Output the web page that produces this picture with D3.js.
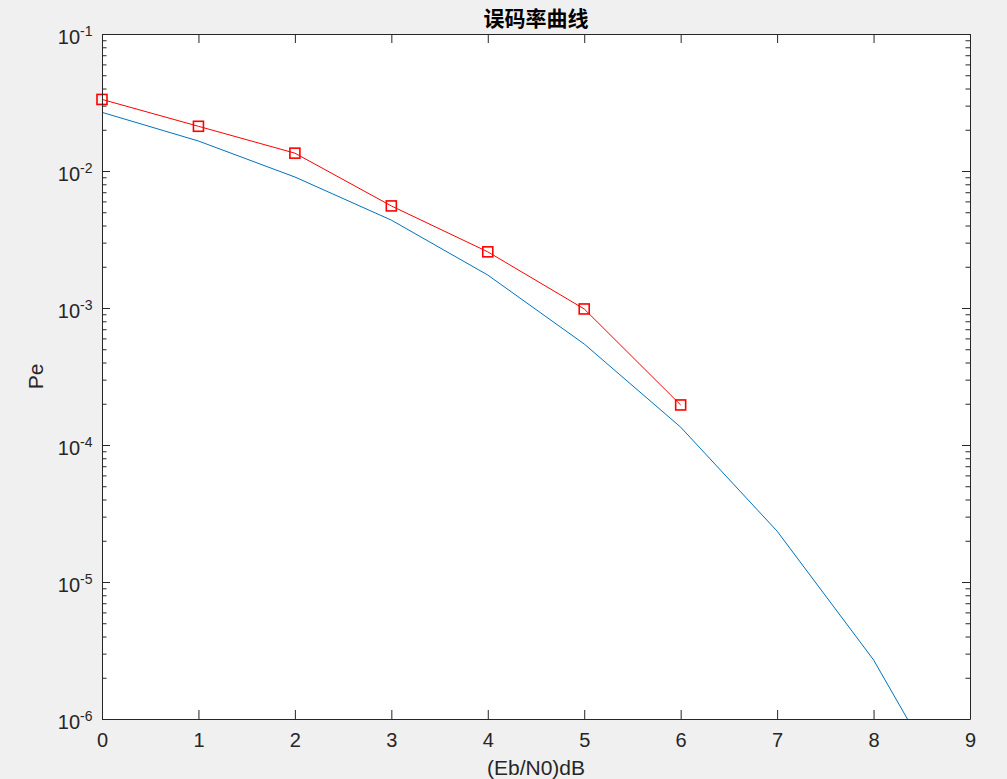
<!DOCTYPE html>
<html>
<head>
<meta charset="utf-8">
<script src="https://cdn.jsdelivr.net/npm/d3@7"></script>
<style>
  body { margin: 0; background: #f0f0f0; }
  svg { display: block; }
  text { font-family: "Liberation Sans", Arial, sans-serif; fill: #262626; }
</style>
</head>
<body>
<div id="chart"></div>
<script>
// data
var ebn0 = [0, 1, 2, 3, 4, 5, 6, 7, 8, 9];
var theoryPe = [0.0268, 0.01655, 0.00904, 0.00438, 0.00174, 5.46e-4, 1.35e-4, 2.35e-5, 2.7e-6, 1.6e-7];
var simX = [0, 1, 2, 3, 4, 5, 6];
var simPe = [0.0333, 0.0212, 0.0135, 0.00556, 0.00257, 9.84e-4, 1.96e-4];
var xTicks = [0, 1, 2, 3, 4, 5, 6, 7, 8, 9];
var yExp = [-6, -5, -4, -3, -2, -1];

var svgWidth = 1007, svgHeight = 779;
var margin = {top: 34, right: 37, bottom: 60, left: 102};
var width = svgWidth - margin.left - margin.right;
var height = svgHeight - margin.top - margin.bottom;

var svg = d3.select("#chart").append("svg")
  .attr("width", svgWidth)
  .attr("height", svgHeight);

var g = svg.append("g")
  .attr("transform", `translate(${margin.left}, ${margin.top})`);

g.append("rect").attr("width", width).attr("height", height).attr("fill", "white");

var x = d3.scaleLinear().domain([0, 9]).range([0, width]);
var y = d3.scaleLog().domain([1e-6, 1e-1]).range([height, 0]);

var majors = yExp.map(e => Math.pow(10, e));
var minors = y.ticks().filter(v => Math.abs(Math.log10(v) - Math.round(Math.log10(v))) > 1e-6);

g.append("defs").append("clipPath").attr("id", "clip")
  .append("rect").attr("width", width).attr("height", height);

// lines
var line = d3.line().x(d => x(d[0])).y(d => y(d[1]));

g.append("path")
  .datum(ebn0.map((v, i) => [v, theoryPe[i]]))
  .attr("clip-path", "url(#clip)")
  .attr("d", line)
  .attr("fill", "none")
  .attr("stroke", "#0072BD")
  .attr("stroke-width", 1);

var simData = simX.map((v, i) => [v, simPe[i]]);
g.append("path")
  .datum(simData)
  .attr("d", line)
  .attr("fill", "none")
  .attr("stroke", "#ff0000")
  .attr("stroke-width", 1);

g.selectAll(".mk").data(simData).enter().append("rect")
  .attr("x", d => x(d[0]) - 5)
  .attr("y", d => y(d[1]) - 5)
  .attr("width", 10).attr("height", 10)
  .attr("fill", "none")
  .attr("stroke", "#ff0000")
  .attr("stroke-width", 1.6);

// axes (ticks point inward, box on)
function styleAxis(sel) {
  sel.select(".domain").attr("stroke", "#262626");
  sel.selectAll(".tick line").attr("stroke", "#262626");
}

var xAxis = g.append("g").attr("transform", `translate(0, ${height})`)
  .call(d3.axisBottom(x).tickValues(xTicks).tickSize(-9).tickPadding(14).tickSizeOuter(0));
xAxis.call(styleAxis);
xAxis.selectAll("text").attr("font-size", "20px").attr("fill", "#262626")
  .attr("font-family", "Liberation Sans, Arial, sans-serif");

g.append("g")
  .call(d3.axisTop(x).tickValues(xTicks).tickSize(-9).tickFormat("").tickSizeOuter(0))
  .call(styleAxis);

var yAxis = g.append("g")
  .call(d3.axisLeft(y).tickValues(majors).tickSize(-8).tickFormat("").tickSizeOuter(0));
yAxis.call(styleAxis);
g.append("g")
  .call(d3.axisLeft(y).tickValues(minors).tickSize(-4.5).tickFormat("").tickSizeOuter(0))
  .call(styleAxis).select(".domain").remove();

g.append("g").attr("transform", `translate(${width}, 0)`)
  .call(d3.axisRight(y).tickValues(majors).tickSize(-8).tickFormat("").tickSizeOuter(0))
  .call(styleAxis);
g.append("g").attr("transform", `translate(${width}, 0)`)
  .call(d3.axisRight(y).tickValues(minors).tickSize(-4.5).tickFormat("").tickSizeOuter(0))
  .call(styleAxis).select(".domain").remove();

// y tick labels 10^n
yExp.forEach(function(e) {
  var t = g.append("text")
    .attr("x", -9.5)
    .attr("y", y(Math.pow(10, e)) + 10)
    .attr("text-anchor", "end")
    .attr("font-size", "20px");
  t.append("tspan").text("10");
  t.append("tspan").attr("dy", -8).attr("font-size", "14px").text(String(e));
});

// title and labels
svg.append("text")
  .attr("x", margin.left + width / 2)
  .attr("y", 26)
  .attr("text-anchor", "middle")
  .attr("font-size", "21px")
  .attr("font-weight", "bold")
  .style("font-family", "'Noto Sans CJK SC', sans-serif")
  .style("fill", "#000")
  .text("误码率曲线");

svg.append("text")
  .attr("x", margin.left + width / 2)
  .attr("y", 775)
  .attr("text-anchor", "middle")
  .attr("font-size", "21px")
  .text("(Eb/N0)dB");

svg.append("text")
  .attr("transform", `translate(43, ${margin.top + height / 2}) rotate(-90)`)
  .attr("text-anchor", "middle")
  .attr("font-size", "21px")
  .text("Pe");
</script>
</body>
</html>
